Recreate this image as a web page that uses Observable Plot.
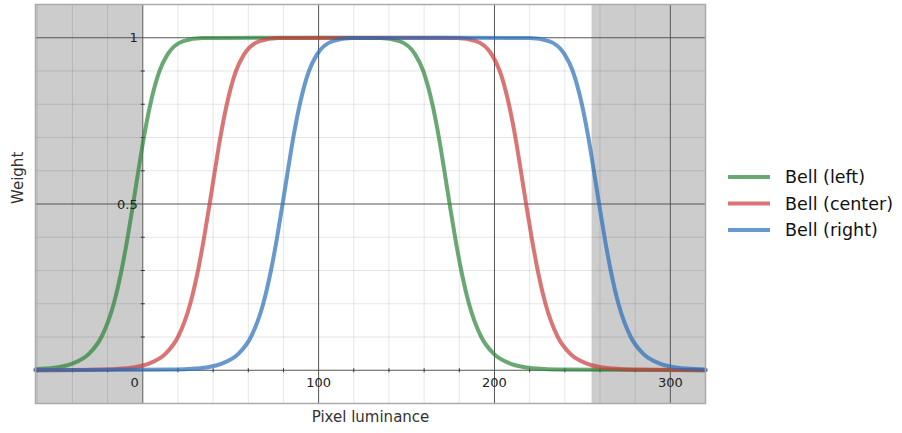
<!DOCTYPE html>
<html>
<head>
<meta charset="utf-8">
<script src="https://cdn.jsdelivr.net/npm/d3@7"></script>
<script src="https://cdn.jsdelivr.net/npm/@observablehq/plot@0.6"></script>
<style>
  html, body { margin: 0; padding: 0; background: #fff; }
  #wrap { position: relative; width: 902px; height: 433px; font-family: "DejaVu Sans", sans-serif; }
  #chart { position: absolute; left: 0; top: 0; }
  #legend { position: absolute; left: 712px; top: 0; }
</style>
</head>
<body>
<div id="wrap"><div id="chart"></div><svg id="legend" width="190" height="433"></svg></div>
<script>
// ---- data ----
const seriesNames = ["Bell (left)", "Bell (center)", "Bell (right)"];
const seriesColors = ["#2a8338", "#ca3a3a", "#276cb9"];

const leftX = [-61, -55.4, -47.5, -40.0, -30.5, -23.5, -16.5, -12.1, -8.6, -5.5, -2.5, 0.6, 4.3, 9.5, 14.1, 23.1, 33.9, 84.5, 135.1, 145.9, 154.9, 159.5, 164.7, 168.4, 171.5, 174.5, 177.6, 181.1, 185.5, 192.5, 199.5, 209.0, 216.5, 224.4, 235.5, 320];
const leftY = [0.003, 0.005, 0.01, 0.02, 0.05, 0.1, 0.2, 0.3, 0.4, 0.5, 0.6, 0.7, 0.8, 0.9, 0.95, 0.99, 0.999, 1, 0.999, 0.99, 0.95, 0.9, 0.8, 0.7, 0.6, 0.5, 0.4, 0.3, 0.2, 0.1, 0.05, 0.02, 0.01, 0.005, 0.002, 0];

const centerX = [-61, -23.0, -11.9, -4.0, 3.5, 13.0, 20.0, 27.0, 31.4, 34.9, 38.0, 41.0, 44.1, 47.8, 53.0, 57.6, 66.6, 77.4, 128, 178.6, 189.4, 198.4, 203.0, 208.2, 211.9, 215.0, 218.0, 221.1, 224.6, 229.0, 236.0, 243.0, 252.5, 260.0, 267.9, 279.0, 320];
const centerY = [0, 0.002, 0.005, 0.01, 0.02, 0.05, 0.1, 0.2, 0.3, 0.4, 0.5, 0.6, 0.7, 0.8, 0.9, 0.95, 0.99, 0.999, 1, 0.999, 0.99, 0.95, 0.9, 0.8, 0.7, 0.6, 0.5, 0.4, 0.3, 0.2, 0.1, 0.05, 0.02, 0.01, 0.005, 0.002, 0];

const rightX = [-61, 18.5, 29.6, 37.5, 45.0, 54.5, 61.5, 68.5, 72.9, 76.4, 79.5, 82.5, 85.6, 89.3, 94.5, 99.1, 108.1, 118.9, 169.5, 220.1, 230.9, 239.9, 244.5, 249.7, 253.4, 256.5, 259.5, 262.6, 266.1, 270.5, 277.5, 284.5, 294.0, 301.5, 309.4, 320];
const rightY = [0, 0.002, 0.005, 0.01, 0.02, 0.05, 0.1, 0.2, 0.3, 0.4, 0.5, 0.6, 0.7, 0.8, 0.9, 0.95, 0.99, 0.999, 1, 0.999, 0.99, 0.95, 0.9, 0.8, 0.7, 0.6, 0.5, 0.4, 0.3, 0.2, 0.1, 0.05, 0.02, 0.01, 0.005, 0.002];

const shadedFrom = [-61, 255.5];
const shadedTo = [0, 320];

const xMajor = [0, 100, 200, 300];
const xMajorLabels = ["0", "100", "200", "300"];
const yMajor = [0, 0.5, 1];
const yMajorLabels = ["", "0.5", "1"];
const xMinor = [-60, -40, -20, 20, 40, 60, 80, 120, 140, 160, 180, 220, 240, 260, 280, 320];
const yMinor = [-0.1, 0.1, 0.2, 0.3, 0.4, 0.6, 0.7, 0.8, 0.9, 1.1];

const xTitle = "Pixel luminance";
const yTitle = "Weight";

// ---- build tables ----
const seriesXs = [leftX, centerX, rightX];
const seriesYs = [leftY, centerY, rightY];
const lineData = seriesNames.flatMap((name, i) =>
  seriesXs[i].map((x, j) => ({series: name, x, y: seriesYs[i][j]})));
const shaded = shadedFrom.map((f, i) => ({x1: f, x2: shadedTo[i]}));
const xLabelData = xMajor.map((v, i) => ({v, label: xMajorLabels[i]}));
const yLabelData = yMajor.map((v, i) => ({v, label: yMajorLabels[i]})).filter(d => d.label);

const vTick = {draw(c, s) { const h = Math.sqrt(s / Math.PI); c.moveTo(0, -h); c.lineTo(0, h); }};
const hTick = {draw(c, s) { const h = Math.sqrt(s / Math.PI); c.moveTo(-h, 0); c.lineTo(h, 0); }};

const chart = Plot.plot({
  width: 712,
  height: 433,
  marginLeft: 35,
  marginRight: 7,
  marginTop: 4,
  marginBottom: 30,
  style: {fontFamily: "DejaVu Sans, sans-serif", background: "transparent", overflow: "visible"},
  x: {domain: [-61, 320], axis: null},
  y: {domain: [-0.1, 1.1], axis: null},
  color: {domain: seriesNames, range: seriesColors},
  marks: [
    Plot.rect(shaded, {x1: "x1", x2: "x2", fill: "#cccccc"}),
    Plot.ruleX(xMinor, {stroke: "#000", strokeOpacity: 0.1}),
    Plot.ruleY(yMinor, {stroke: "#000", strokeOpacity: 0.1}),
    Plot.ruleX(xMajor, {stroke: "#555", strokeWidth: 1}),
    Plot.ruleY(yMajor, {stroke: "#555", strokeWidth: 1}),
    Plot.dot(xMinor, {x: d => d, y: () => 0, symbol: vTick, r: 2, stroke: "#333", strokeWidth: 1}),
    Plot.dot(yMinor, {x: () => 0, y: d => d, symbol: hTick, r: 2, stroke: "#333", strokeWidth: 1}),
    Plot.line(lineData, {x: "x", y: "y", z: "series", stroke: "series", strokeWidth: 4, strokeOpacity: 0.7, curve: "monotone-x"}),
    Plot.text(xLabelData.filter(d => d.v === 0), {x: "v", y: () => 0, text: "label", textAnchor: "end", dx: -4, dy: 12.5, lineAnchor: "middle", fontSize: 13, fill: "#222"}),
    Plot.text(xLabelData.filter(d => d.v !== 0), {x: "v", y: () => 0, text: "label", dy: 12.5, lineAnchor: "middle", fontSize: 13, fill: "#222"}),
    Plot.text(yLabelData, {x: () => 0, y: "v", text: "label", textAnchor: "end", dx: -5, dy: 0.5, lineAnchor: "middle", fontSize: 13, fill: "#222"}),
    Plot.frame({stroke: "#aaaaaa", strokeWidth: 1.5}),
    Plot.text([xTitle], {frameAnchor: "bottom", dy: 13.5, lineAnchor: "middle", fontSize: 15, fill: "#333"}),
    Plot.text([yTitle], {frameAnchor: "left", dx: -17, rotate: -90, lineAnchor: "middle", fontSize: 15, fill: "#333"})
  ]
});
document.getElementById("chart").appendChild(chart);

// ---- legend ----
const legend = d3.select("#legend");
const legendY = [177, 203.5, 230];
seriesNames.forEach((name, i) => {
  legend.append("line")
    .attr("x1", 16).attr("x2", 58)
    .attr("y1", legendY[i]).attr("y2", legendY[i])
    .attr("stroke", seriesColors[i]).attr("stroke-opacity", 0.7).attr("stroke-width", 4);
  legend.append("text")
    .attr("x", 73).attr("y", legendY[i]).attr("dy", "0.35em")
    .attr("font-family", "DejaVu Sans, sans-serif").attr("font-size", 17.5).attr("fill", "#111")
    .text(name);
});
</script>
</body>
</html>
